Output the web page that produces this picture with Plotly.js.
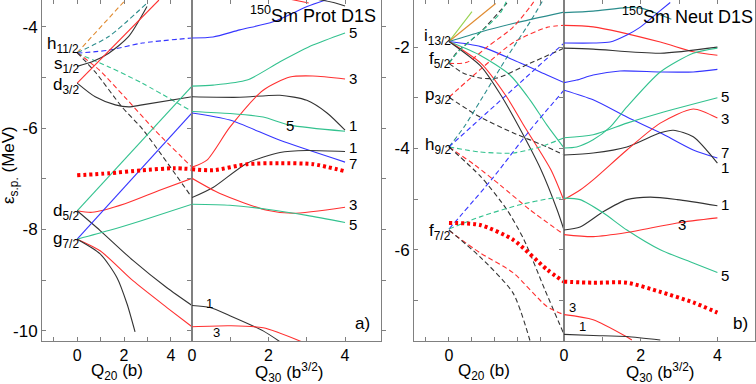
<!DOCTYPE html>
<html>
<head>
<meta charset="utf-8">
<script src="https://cdn.plot.ly/plotly-3.0.1.min.js"></script>
<style>
  body { margin: 0; background: #fff; }
  #chart { width: 756px; height: 384px; }
</style>
</head>
<body>
<div id="chart"></div>
<script>
// Single-particle levels of 150Sm (D1S): [Q (b or b^3/2), e (MeV)]

// ---- a) protons, Q20 side
const a20_h11_orange = [[0, -4.51], [2.0, -3.50]];
const a20_h11_teal = [[0, -4.51], [1.35, -4.19], [2.98, -3.53]];
const a20_h11_blue = [[0, -4.52], [1.35, -4.46], [2.77, -4.32], [4.9, -4.22]];
const a20_h11_green = [[0, -4.52], [1.35, -4.79], [2.77, -5.11], [4.9, -5.67]];
const a20_h11_red = [[0, -4.51], [0.94, -4.85], [2.04, -5.39], [3.32, -6.04], [4.9, -6.77]];
const a20_h11_black = [[0, -4.51], [0.77, -4.89], [1.91, -5.58], [2.77, -6.01], [4.9, -7.37]];
const a20_s12_black = [[0, -4.78], [0.64, -4.69], [1.35, -4.52], [2.2, -4.19], [2.98, -3.60]];
const a20_d32_red = [[0, -5.11], [3.49, -3.47]];
const a20_d32_black = [[0, -5.11], [0.77, -5.38], [1.63, -5.54], [2.2, -5.58], [2.77, -5.54], [4.9, -5.38]];
const a20_d52_red = [[0, -7.63], [0.64, -7.66], [2.04, -7.49], [3.49, -7.23], [4.9, -6.99]];
const a20_d52_green = [[0, -7.63], [4.9, -5.17]];
const a20_d52_black = [[0, -7.63], [0.98, -8.02], [2.38, -8.61], [3.83, -9.15], [4.9, -9.50]];
const a20_g72_blue = [[0, -8.19], [4.9, -5.70]];
const a20_g72_green = [[0, -8.19], [1.35, -8.02], [2.77, -7.82], [4.9, -7.50]];
const a20_g72_red = [[0, -8.19], [0.98, -8.42], [2.38, -9.01], [3.83, -9.54], [4.9, -9.92]];
const a20_g72_black = [[0, -8.19], [0.98, -8.48], [1.70, -8.95], [2.13, -9.47], [2.47, -10.02]];
const a20_fermi = [[0, -6.93], [1.35, -6.89], [2.77, -6.83], [4.17, -6.79], [4.9, -6.81]];

// ---- a) protons, Q30 side
const a30_blue_top = [[0, -4.22], [0.55, -4.20], [1.25, -4.06], [2.12, -3.90], [3.01, -3.60], [3.53, -3.46]];
const a30_green5_top = [[0, -5.17], [0.55, -5.15], [1.44, -5.05], [2.30, -4.69], [3.16, -4.36], [4.0, -4.12]];
const a30_black1_top = [[0, -5.38], [1.25, -5.39], [2.30, -5.35], [3.0, -5.45], [3.53, -5.70], [4.0, -6.04]];
const a30_red3_top = [[0, -6.77], [0.39, -6.63], [0.99, -5.98], [1.86, -5.25], [2.56, -4.99], [3.16, -4.97], [4.0, -5.03]];
const a30_green5_mid = [[0, -5.67], [0.99, -5.71], [1.86, -5.78], [2.56, -5.94], [4.0, -6.06]];
const a30_blue7 = [[0, -5.70], [0.99, -5.84], [2.30, -6.24], [4.0, -6.67]];
const a30_black1_mid = [[0, -7.37], [0.55, -7.17], [1.44, -6.69], [2.30, -6.48], [3.0, -6.44], [4.0, -6.46]];
const a30_red3_mid = [[0, -6.99], [0.73, -7.29], [1.96, -7.62], [2.64, -7.68], [4.0, -7.56]];
const a30_green5_low = [[0, -7.50], [0.99, -7.52], [1.96, -7.60], [3.0, -7.72], [4.0, -7.86]];
const a30_black1_low = [[0, -9.50], [0.47, -9.54], [0.99, -9.70], [1.86, -10.0], [2.35, -10.24]];
const a30_red3_low = [[0, -9.92], [0.99, -9.90], [1.86, -9.94], [2.95, -10.24]];
const a30_fermi = [[0, -6.81], [0.55, -6.83], [1.44, -6.71], [2.30, -6.69], [3.16, -6.71], [4.0, -6.85]];
const a30_black_edge = [[3.3, -3.46], [3.7, -3.52], [4.0, -3.59]];
const a30_red_edge = [[2.6, -3.46], [3.05, -3.53]];

// ---- b) neutrons, Q20 side
const b20_i13_lgreen = [[0, -1.89], [1.0, -1.30]];
const b20_i13_orange = [[0, -1.89], [2.03, -1.14]];
const b20_i13_teal = [[0, -1.89], [1.38, -1.70], [2.83, -1.53], [5.0, -1.31]];
const b20_i13_blue = [[0, -1.89], [1.38, -1.99], [2.83, -2.26], [4.26, -2.55], [5.0, -2.70]];
const b20_i13_green = [[0, -1.89], [1.35, -2.16], [2.65, -2.55], [3.52, -3.04], [4.26, -3.54], [5.0, -3.99]];
const b20_i13_red = [[0, -1.89], [1.39, -2.32], [2.52, -2.99], [3.30, -3.58], [4.43, -4.42], [5.0, -5.03]];
const b20_i13_black = [[0, -1.89], [1.39, -2.38], [2.26, -2.95], [2.83, -3.40], [4.0, -4.42], [4.70, -5.21], [5.0, -5.61]];
const b20_f52_red = [[0, -2.32], [0.78, -2.30], [1.65, -2.0], [2.78, -1.61], [3.52, -1.21], [3.74, -1.07]];
const b20_f52_black = [[0, -2.32], [0.61, -2.51], [1.35, -2.61], [2.09, -2.61], [3.52, -2.32], [5.0, -2.02]];
const b20_f52_black_up = [[0, -2.32], [0.35, -2.10], [1.38, -1.70], [2.52, -1.13]];
const b20_f52_green = [[0, -2.32], [0.35, -2.12], [0.96, -1.86], [1.61, -1.61], [2.26, -1.31], [2.52, -1.07]];
const b20_p32_red = [[0, -2.99], [1.39, -2.43], [2.83, -1.90], [4.26, -1.61], [5.0, -1.57]];
const b20_p32_black = [[0, -2.99], [1.35, -3.38], [2.78, -3.69], [4.26, -3.97], [5.0, -4.13]];
const b20_h92_teal = [[0, -3.97], [0.65, -3.58], [1.39, -3.04], [2.52, -2.20], [3.57, -1.47], [4.09, -1.07]];
const b20_h92_blue = [[0, -3.97], [5.0, -1.92]];
const b20_h92_green = [[0, -3.97], [1.35, -4.07], [2.78, -4.09], [3.96, -3.97], [5.0, -3.79]];
const b20_h92_red = [[0, -3.97], [1.13, -4.33], [2.22, -4.72], [3.52, -5.21], [5.0, -5.70]];
const b20_h92_black = [[0, -3.97], [1.39, -4.56], [2.52, -5.21], [3.26, -5.80], [4.17, -6.79], [5.0, -7.67]];
const b20_f72_blue = [[0, -5.59], [1.91, -4.58], [3.52, -3.64], [5.0, -2.85]];
const b20_f72_green = [[0, -5.59], [1.35, -5.35], [3.09, -5.11], [4.52, -4.98], [5.0, -4.98]];
const b20_f72_red = [[0, -5.62], [1.35, -6.06], [2.78, -6.45], [4.26, -7.12], [5.0, -7.28]];
const b20_f72_black = [[0, -5.61], [1.35, -6.14], [2.78, -6.85], [3.52, -7.79]];
const b20_fermi = [[0, -5.47], [1.35, -5.51], [2.78, -5.80], [4.26, -6.39], [5.0, -6.63]];

// ---- b) neutrons, Q30 side
const b30_teal = [[0, -1.32], [0.76, -1.29], [1.64, -1.22], [2.06, -1.24], [2.43, -1.34], [2.8, -1.45]];
const b30_red_top = [[0, -1.57], [0.76, -1.60], [2.51, -1.90], [3.37, -2.09], [4.0, -2.16]];
const b30_blue_top = [[0, -1.92], [0.76, -1.92], [1.20, -1.90], [1.64, -1.76], [1.98, -1.61], [2.43, -1.33], [2.77, -1.12]];
const b30_black_top = [[0, -2.02], [0.76, -2.04], [2.51, -2.12], [4.0, -2.0]];
const b30_blue_flat = [[0, -2.70], [0.33, -2.65], [0.76, -2.55], [1.46, -2.47], [2.51, -2.49], [3.37, -2.49], [4.0, -2.44]];
const b30_blue7 = [[0, -2.85], [0.76, -3.04], [1.64, -3.38], [2.51, -3.69], [3.37, -4.03], [4.0, -4.19]];
const b30_green5 = [[0, -3.79], [0.76, -3.73], [1.64, -3.50], [2.51, -3.30], [4.0, -3.0]];
const b30_green_rise = [[0, -3.99], [0.33, -3.97], [0.76, -3.83], [1.20, -3.58], [1.64, -3.18], [2.51, -2.49], [3.37, -2.12], [4.0, -2.02]];
const b30_black1_up = [[0, -4.13], [0.76, -4.09], [1.64, -3.97], [2.51, -3.69], [2.85, -3.64], [3.37, -3.77], [4.0, -4.29]];
const b30_red3_up = [[0, -5.01], [0.42, -4.82], [0.76, -4.62], [1.64, -4.03], [2.51, -3.50], [3.37, -3.22], [4.0, -3.40]];
const b30_black1_mid = [[0, -5.61], [0.42, -5.55], [1.02, -5.25], [1.64, -5.01], [2.25, -4.96], [2.95, -5.01], [4.0, -5.13]];
const b30_green5_down = [[0, -4.98], [0.42, -5.01], [1.02, -5.27], [1.64, -5.61], [2.51, -6.0], [3.37, -6.26], [4.0, -6.45]];
const b30_red3_mid = [[0, -5.70], [0.76, -5.74], [1.64, -5.66], [2.95, -5.47], [4.0, -5.37]];
const b30_fermi = [[0, -6.63], [0.76, -6.65], [1.64, -6.65], [2.51, -6.83], [3.37, -7.04], [4.0, -7.24]];
const b30_red3_low = [[0, -7.28], [0.76, -7.38], [1.64, -7.72], [1.77, -7.78]];
const b30_black1_low = [[0, -7.67], [0.76, -7.69], [1.64, -7.71], [2.51, -7.78]];

// tick labels
const yTicksA = [-10, -9, -8, -7, -6, -5, -4];
const yTextA = ['-10', '', '-8', '', '-6', '', '-4'];
const yTicksB = [-7, -6, -5, -4, -3, -2];
const yTextB = ['', '-6', '', '-4', '', '-2'];
const q20Ticks = [-1, 0, 1, 2, 3, 4];
const q20TextA = ['', '0', '', '2', '', '4'];
const q20TextB = ['', '0', '', '', '', ''];
const q30Ticks = [0, 1, 2, 3, 4];
const q30Text = ['0', '', '2', '', '4'];

// colours by projection K
const K = {
  k: '#333333', r: '#ff3030', g: '#33c28f', b: '#3535ff',
  t: '#2a8c8c', o: '#e08a2e', lg: '#96d24e'
};
const FERMI = '#ff0000';

const traces = [];
function curve(pts, xa, ya, color, dashed) {
  traces.push({
    x: pts.map(p => p[0]),
    y: pts.map(p => p[1]),
    xaxis: xa, yaxis: ya,
    type: 'scatter', mode: 'lines', hoverinfo: 'skip',
    line: { color: color, width: 1.1, dash: dashed ? '5px,3px' : 'solid', shape: 'spline', smoothing: 0.7 }
  });
}
function fermi(pts, xa, ya) {
  traces.push({
    x: pts.map(p => p[0]),
    y: pts.map(p => p[1]),
    xaxis: xa, yaxis: ya,
    type: 'scatter', mode: 'lines', hoverinfo: 'skip',
    line: { color: FERMI, width: 4, dash: '3px,3px', shape: 'spline', smoothing: 0.7 }
  });
}

// a) Q20
curve(a20_h11_orange, 'x', 'y', K.o, true);
curve(a20_h11_teal, 'x', 'y', K.t, true);
curve(a20_h11_blue, 'x', 'y', K.b, true);
curve(a20_h11_green, 'x', 'y', K.g, true);
curve(a20_h11_red, 'x', 'y', K.r, true);
curve(a20_h11_black, 'x', 'y', K.k, true);
curve(a20_s12_black, 'x', 'y', K.k, false);
curve(a20_d32_red, 'x', 'y', K.r, false);
curve(a20_d32_black, 'x', 'y', K.k, false);
curve(a20_d52_red, 'x', 'y', K.r, false);
curve(a20_d52_green, 'x', 'y', K.g, false);
curve(a20_d52_black, 'x', 'y', K.k, false);
curve(a20_g72_blue, 'x', 'y', K.b, false);
curve(a20_g72_green, 'x', 'y', K.g, false);
curve(a20_g72_red, 'x', 'y', K.r, false);
curve(a20_g72_black, 'x', 'y', K.k, false);
fermi(a20_fermi, 'x', 'y');

// a) Q30
curve(a30_blue_top, 'x2', 'y', K.b, false);
curve(a30_green5_top, 'x2', 'y', K.g, false);
curve(a30_black1_top, 'x2', 'y', K.k, false);
curve(a30_red3_top, 'x2', 'y', K.r, false);
curve(a30_green5_mid, 'x2', 'y', K.g, false);
curve(a30_blue7, 'x2', 'y', K.b, false);
curve(a30_black1_mid, 'x2', 'y', K.k, false);
curve(a30_red3_mid, 'x2', 'y', K.r, false);
curve(a30_green5_low, 'x2', 'y', K.g, false);
curve(a30_black1_low, 'x2', 'y', K.k, false);
curve(a30_red3_low, 'x2', 'y', K.r, false);
curve(a30_black_edge, 'x2', 'y', K.k, false);
curve(a30_red_edge, 'x2', 'y', K.r, false);
fermi(a30_fermi, 'x2', 'y');

// b) Q20
curve(b20_i13_lgreen, 'x3', 'y2', K.lg, false);
curve(b20_i13_orange, 'x3', 'y2', K.o, false);
curve(b20_i13_teal, 'x3', 'y2', K.t, false);
curve(b20_i13_blue, 'x3', 'y2', K.b, false);
curve(b20_i13_green, 'x3', 'y2', K.g, false);
curve(b20_i13_red, 'x3', 'y2', K.r, false);
curve(b20_i13_black, 'x3', 'y2', K.k, false);
curve(b20_f52_red, 'x3', 'y2', K.r, true);
curve(b20_f52_black, 'x3', 'y2', K.k, true);
curve(b20_f52_black_up, 'x3', 'y2', K.k, true);
curve(b20_f52_green, 'x3', 'y2', K.g, true);
curve(b20_p32_red, 'x3', 'y2', K.r, true);
curve(b20_p32_black, 'x3', 'y2', K.k, true);
curve(b20_h92_teal, 'x3', 'y2', K.t, true);
curve(b20_h92_blue, 'x3', 'y2', K.b, true);
curve(b20_h92_green, 'x3', 'y2', K.g, true);
curve(b20_h92_red, 'x3', 'y2', K.r, true);
curve(b20_h92_black, 'x3', 'y2', K.k, true);
curve(b20_f72_blue, 'x3', 'y2', K.b, true);
curve(b20_f72_green, 'x3', 'y2', K.g, true);
curve(b20_f72_red, 'x3', 'y2', K.r, true);
curve(b20_f72_black, 'x3', 'y2', K.k, true);
fermi(b20_fermi, 'x3', 'y2');

// b) Q30
curve(b30_teal, 'x4', 'y2', K.t, false);
curve(b30_red_top, 'x4', 'y2', K.r, false);
curve(b30_blue_top, 'x4', 'y2', K.b, false);
curve(b30_black_top, 'x4', 'y2', K.k, false);
curve(b30_blue_flat, 'x4', 'y2', K.b, false);
curve(b30_blue7, 'x4', 'y2', K.b, false);
curve(b30_green5, 'x4', 'y2', K.g, false);
curve(b30_green_rise, 'x4', 'y2', K.g, false);
curve(b30_black1_up, 'x4', 'y2', K.k, false);
curve(b30_red3_up, 'x4', 'y2', K.r, false);
curve(b30_black1_mid, 'x4', 'y2', K.k, false);
curve(b30_green5_down, 'x4', 'y2', K.g, false);
curve(b30_red3_mid, 'x4', 'y2', K.r, false);
curve(b30_red3_low, 'x4', 'y2', K.r, false);
curve(b30_black1_low, 'x4', 'y2', K.k, false);
fermi(b30_fermi, 'x4', 'y2');

const W = 756, H = 384;
const FRAME = '#808080';
function axis(extra) {
  return Object.assign({
    showline: true, linecolor: FRAME, linewidth: 1, mirror: 'ticks',
    ticks: 'inside', ticklen: 4, tickcolor: FRAME,
    showgrid: false, zeroline: false, fixedrange: true,
    tickfont: { size: 16, color: '#000' }
  }, extra);
}
const yDom = [1 - 341 / H, 1];

// text helpers
function lab(text, xref, yref, x, y, anchor, size, shift) {
  return {
    text: text, xref: xref, yref: yref, x: x, y: y,
    xanchor: anchor, yanchor: 'middle', showarrow: false, borderpad: 0,
    xshift: shift || 0, font: { size: size, color: '#000' }
  };
}
function pap(text, px, py, size, angle, anchor) {
  return {
    text: text, xref: 'paper', yref: 'paper', x: px / W, y: 1 - py / H,
    xanchor: anchor || 'center', yanchor: 'middle', showarrow: false, borderpad: 0,
    textangle: angle || 0, font: { size: size, color: '#000' }
  };
}

const annotations = [
  // orbital labels at Q20 = 0
  lab('h<sub>11/2</sub>', 'x', 'y', 0, -4.35, 'right', 17, 3),
  lab('s<sub>1/2</sub>', 'x', 'y', 0, -4.76, 'right', 17, 3),
  lab('d<sub>3/2</sub>', 'x', 'y', 0, -5.16, 'right', 17, 3),
  lab('d<sub>5/2</sub>', 'x', 'y', 0, -7.65, 'right', 17, 3),
  lab('g<sub>7/2</sub>', 'x', 'y', 0, -8.21, 'right', 17, 3),
  lab('i<sub>13/2</sub>', 'x3', 'y2', 0, -1.80, 'right', 17, 3),
  lab('f<sub>5/2</sub>', 'x3', 'y2', 0, -2.25, 'right', 17, 3),
  lab('p<sub>3/2</sub>', 'x3', 'y2', 0, -2.97, 'right', 17, 3),
  lab('h<sub>9/2</sub>', 'x3', 'y2', 0, -3.95, 'right', 17, 3),
  lab('f<sub>7/2</sub>', 'x3', 'y2', 0, -5.65, 'right', 17, 3),
  // K labels, panel a
  lab('5', 'x2', 'y', 4, -4.12, 'left', 15, 3),
  lab('3', 'x2', 'y', 4, -5.01, 'left', 15, 3),
  lab('1', 'x2', 'y', 4, -5.94, 'left', 15, 3),
  lab('1', 'x2', 'y', 4, -6.38, 'left', 15, 3),
  lab('7', 'x2', 'y', 4, -6.70, 'left', 15, 3),
  lab('3', 'x2', 'y', 4, -7.50, 'left', 15, 3),
  lab('5', 'x2', 'y', 4, -7.90, 'left', 15, 3),
  lab('5', 'x2', 'y', 2.56, -5.94, 'center', 15, 0),
  lab('1', 'x2', 'y', 0.47, -9.45, 'center', 13, 0),
  lab('3', 'x2', 'y', 0.65, -10.04, 'center', 13, 0),
  // K labels, panel b
  lab('5', 'x4', 'y2', 4, -2.98, 'left', 15, 3),
  lab('3', 'x4', 'y2', 4, -3.41, 'left', 15, 3),
  lab('7', 'x4', 'y2', 4, -4.08, 'left', 15, 3),
  lab('1', 'x4', 'y2', 4, -4.38, 'left', 15, 3),
  lab('1', 'x4', 'y2', 4, -5.11, 'left', 15, 3),
  lab('3', 'x4', 'y2', 3.08, -5.51, 'center', 15, 0),
  lab('5', 'x4', 'y2', 4, -6.51, 'left', 15, 3),
  lab('3', 'x4', 'y2', 0.23, -7.14, 'center', 13, 0),
  lab('1', 'x4', 'y2', 0.47, -7.52, 'center', 13, 0),
  // titles and axis titles
  pap('<sup>150</sup>Sm Prot D1S', 377, 14, 18, 0, 'right'),
  pap('<sup>150</sup>Sm Neut D1S', 754, 16, 18, 0, 'right'),
  pap('a)', 362, 323, 17),
  pap('b)', 740, 323, 17),
  pap('Q<sub>20</sub> (b)', 117, 372, 17),
  pap('Q<sub>30</sub> (b<sup>3/2</sup>)', 289, 372, 17),
  pap('Q<sub>20</sub> (b)', 484, 372, 17),
  pap('Q<sub>30</sub> (b<sup>3/2</sup>)', 660, 372, 17),
  pap('ε<sub>s.p.</sub> (MeV)', 10, 165, 17, -90)
];

const layout = {
  width: W, height: H,
  margin: { l: 0, r: 0, t: 0, b: 0 },
  paper_bgcolor: '#fff', plot_bgcolor: '#fff',
  showlegend: false,
  font: { family: 'Liberation Sans, Arial, sans-serif', size: 17, color: '#000' },
  xaxis: axis({ domain: [42 / W, 192 / W], range: [-1.5, 4.9], anchor: 'y',
    tickvals: q20Ticks, ticktext: q20TextA }),
  xaxis2: axis({ domain: [192 / W, 381 / W], range: [0, 4.94], anchor: 'y',
    tickvals: q30Ticks, ticktext: q30Text }),
  yaxis: axis({ domain: yDom, range: [-10.2, -3.47], anchor: 'x', mirror: 'allticks',
    tickvals: yTicksA, ticktext: yTextA, tickfont: { size: 17, color: '#000' } }),
  xaxis3: axis({ domain: [414 / W, 564 / W], range: [-1.52, 5.0], anchor: 'y2',
    tickvals: q20Ticks, ticktext: q20TextB }),
  xaxis4: axis({ domain: [564 / W, 755 / W], range: [0, 4.98], anchor: 'y2',
    tickvals: q30Ticks, ticktext: q30Text }),
  yaxis2: axis({ domain: yDom, range: [-7.8, -1.07], anchor: 'x3', mirror: 'allticks',
    tickvals: yTicksB, ticktext: yTextB, tickfont: { size: 17, color: '#000' } }),
  annotations: annotations
};

Plotly.newPlot('chart', traces, layout, { displayModeBar: false, staticPlot: true });
</script>
</body>
</html>
